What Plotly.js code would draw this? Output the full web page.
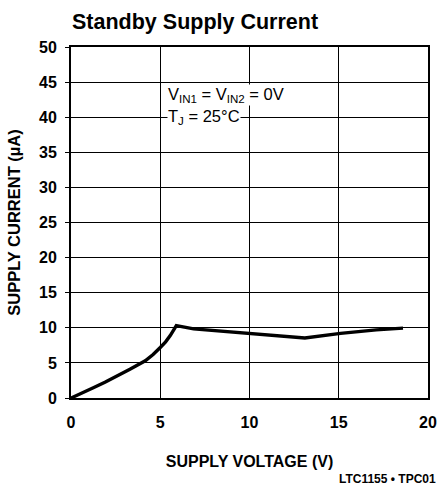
<!DOCTYPE html>
<html><head><meta charset="utf-8">
<script src="https://cdn.plot.ly/plotly-3.0.1.min.js"></script>
<style>body{margin:0;background:#fff}#c{width:438px;height:486px}</style>
</head><body><div id="c"></div>
<script>
const voltage = [0, 0.6, 1.25, 1.9, 2.57, 3.3, 4.16, 4.6, 5.0, 5.3, 5.56, 5.75, 5.9, 6.87, 8.5, 10.06, 11.6, 13.1, 15.1, 17.1, 18.6];
const current = [0, 0.65, 1.45, 2.25, 3.1, 4.1, 5.3, 6.2, 7.2, 8.0, 8.9, 9.6, 10.3, 9.85, 9.5, 9.2, 8.9, 8.55, 9.2, 9.7, 9.95];
const xTicks = [0, 5, 10, 15, 20];
const yTicks = [0, 5, 10, 15, 20, 25, 30, 35, 40, 45, 50];
const F = '"Liberation Sans", Arial, sans-serif';
const data = [{x: voltage, y: current, mode: 'lines', line: {color: '#000', width: 3.4, shape: 'linear'}, hoverinfo: 'none'}];
const layout = {
  width: 438, height: 486,
  margin: {l: 71, r: 10, t: 47, b: 88},
  paper_bgcolor: '#fff', plot_bgcolor: '#fff',
  showlegend: false,
  font: {family: F, color: '#000'},
  title: {text: '<b>Standby Supply Current</b>', x: 0, xref: 'paper', xanchor: 'left', y: 1, yref: 'paper', yanchor: 'bottom', pad: {b: 18, l: 1}, font: {size: 21.5, family: F}},
  xaxis: {range: [0, 20], tickvals: xTicks, ticktext: xTicks.map(v => '<b>' + v + '</b>'), showgrid: true, gridcolor: '#000', gridwidth: 1, zeroline: false, showline: true, linecolor: '#000', linewidth: 2, mirror: true, ticks: '', ticklabelstandoff: 9, tickfont: {size: 16, family: F}, title: {text: '<b>SUPPLY VOLTAGE (V)</b>', font: {size: 16, family: F}, standoff: 26}, fixedrange: true},
  yaxis: {range: [0, 50], tickvals: yTicks, ticktext: yTicks.map(v => '<b>' + v + '</b>'), showgrid: true, gridcolor: '#000', gridwidth: 1, zeroline: false, showline: true, linecolor: '#000', linewidth: 2, mirror: true, ticks: 'outside', ticklen: 4, tickcolor: '#000', ticklabelstandoff: 5, tickfont: {size: 16, family: F}, title: {text: '<b>SUPPLY CURRENT (µA)</b>', font: {size: 16.5, family: F}, standoff: 14}, fixedrange: true},
  annotations: [
    {text: 'V<sub>IN1</sub> = V<sub>IN2</sub> = 0V', x: 5.4, y: 43.2, xref: 'x', yref: 'y', xanchor: 'left', yanchor: 'middle', align: 'left', showarrow: false, bgcolor: '#fff', borderpad: 0, font: {size: 16.5, family: F}},
    {text: 'T<sub>J</sub> = 25°C', x: 5.4, y: 40.1, xref: 'x', yref: 'y', xanchor: 'left', yanchor: 'middle', align: 'left', showarrow: false, bgcolor: '#fff', borderpad: 0, font: {size: 16.5, family: F}},
    {text: '<b>LTC1155 • TPC01</b>', x: 1, y: 0, xref: 'paper', yref: 'paper', xanchor: 'right', yanchor: 'top', xshift: 10, yshift: -72, showarrow: false, font: {size: 12, family: F}}
  ]
};
Plotly.newPlot('c', data, layout, {staticPlot: true});
</script></body></html>
